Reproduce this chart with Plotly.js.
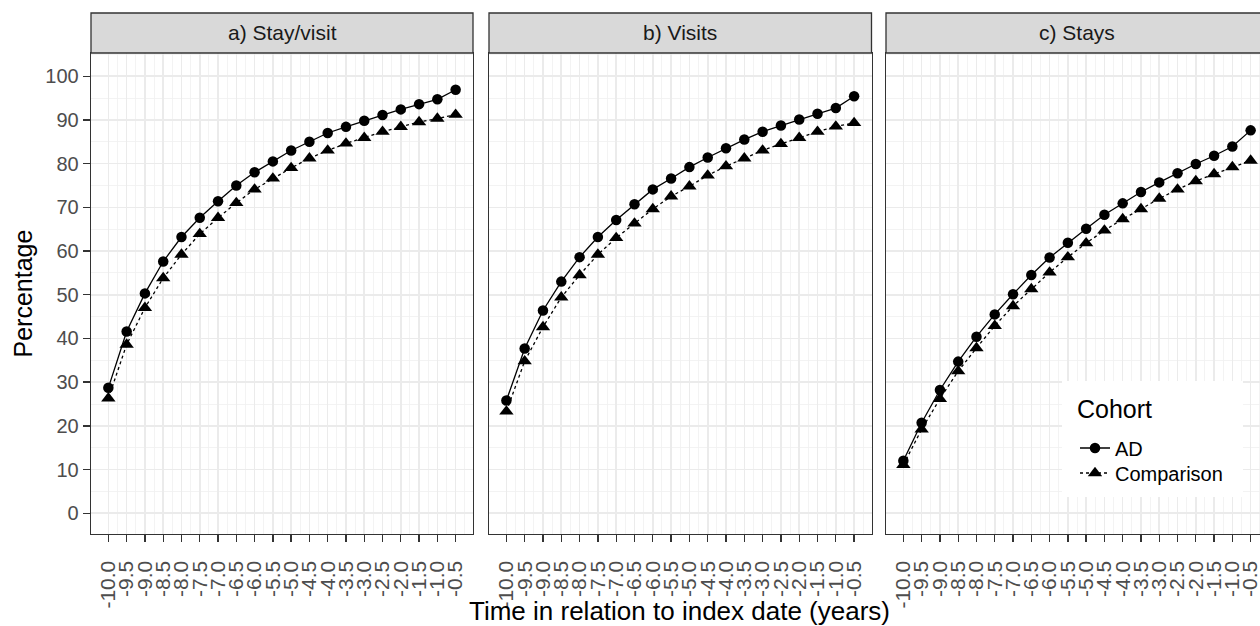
<!DOCTYPE html>
<html>
<head>
<meta charset="utf-8">
<script src="https://cdn.plot.ly/plotly-3.0.1.min.js"></script>
<style>
html, body { margin: 0; padding: 0; overflow: hidden; background: #fff; }
#chart { width: 1270px; height: 626px; }
</style>
</head>
<body>
<div id="chart"></div>
<script>
// ---- data ----
const years = [-10.0, -9.5, -9.0, -8.5, -8.0, -7.5, -7.0, -6.5, -6.0, -5.5,
               -5.0, -4.5, -4.0, -3.5, -3.0, -2.5, -2.0, -1.5, -1.0, -0.5];
const yearLabels = ["-10.0", "-9.5", "-9.0", "-8.5", "-8.0", "-7.5", "-7.0", "-6.5", "-6.0", "-5.5",
                    "-5.0", "-4.5", "-4.0", "-3.5", "-3.0", "-2.5", "-2.0", "-1.5", "-1.0", "-0.5"];
const panelTitles = ["a) Stay/visit", "b) Visits", "c) Stays"];
const cohorts = ["AD", "Comparison"];

const adStayVisit   = [28.7, 41.6, 50.3, 57.6, 63.2, 67.6, 71.4, 75.0, 78.0, 80.5, 83.0, 85.0, 87.0, 88.4, 89.8, 91.1, 92.4, 93.6, 94.7, 96.9];
const cmpStayVisit  = [26.3, 38.6, 47.0, 53.8, 59.2, 63.9, 67.6, 71.0, 74.1, 76.6, 79.0, 81.2, 83.0, 84.6, 85.9, 87.3, 88.4, 89.5, 90.3, 91.2];
const adVisits      = [25.8, 37.7, 46.4, 53.0, 58.6, 63.2, 67.1, 70.7, 74.1, 76.6, 79.2, 81.4, 83.5, 85.5, 87.3, 88.7, 90.1, 91.4, 92.7, 95.4];
const cmpVisits     = [23.3, 34.8, 42.6, 49.4, 54.5, 59.2, 63.0, 66.3, 69.6, 72.5, 74.8, 77.3, 79.4, 81.2, 83.0, 84.5, 85.9, 87.3, 88.5, 89.3];
const adStays       = [12.0, 20.7, 28.2, 34.7, 40.4, 45.5, 50.1, 54.5, 58.5, 61.9, 65.1, 68.3, 70.9, 73.5, 75.7, 77.8, 79.9, 81.8, 83.9, 87.6];
const cmpStays      = [11.1, 19.2, 26.2, 32.5, 37.8, 42.9, 47.4, 51.3, 55.1, 58.6, 61.8, 64.7, 67.3, 69.6, 72.0, 74.1, 76.0, 77.6, 79.2, 80.7];
const yTicks = [0, 10, 20, 30, 40, 50, 60, 70, 80, 90, 100];

// ---- layout geometry (pixels) ----
const W = 1270, H = 626;
const panelsPx = [[91, 473], [489, 871.5], [886, 1268]];
const panelTop = 53, panelBottom = 534, stripTop = 13;
const FONT = "Liberation Sans, Arial, sans-serif";
const px = v => v / W;
const py = v => 1 - v / H;

const seriesByPanel = [[adStayVisit, cmpStayVisit], [adVisits, cmpVisits], [adStays, cmpStays]];
const traces = [];
seriesByPanel.forEach((pair, i) => {
  const sfx = i === 0 ? "" : String(i + 1);
  traces.push({
    x: years, y: pair[0], name: cohorts[0], legend: "legend", showlegend: i === 0,
    xaxis: "x" + sfx, yaxis: "y" + sfx, type: "scatter", mode: "lines+markers",
    line: { color: "#000", width: 1.3 },
    marker: { symbol: "circle", size: 10.5, color: "#000" }
  });
  traces.push({
    x: years, y: pair[1], name: cohorts[1], legend: "legend2", showlegend: i === 0,
    xaxis: "x" + sfx, yaxis: "y" + sfx, type: "scatter", mode: "lines+markers",
    line: { color: "#000", width: 1.3, dash: "dot" },
    marker: { symbol: "triangle-up", size: 12.5, color: "#000" }
  });
});

const legendCommon = {
  xanchor: "left", yanchor: "middle", bgcolor: "rgba(0,0,0,0)", borderwidth: 0,
  font: { size: 20, color: "#000", family: FONT }, itemwidth: 30
};

const layout = {
  width: W, height: H,
  margin: { l: 0, r: 0, t: 0, b: 0 },
  paper_bgcolor: "#fff", plot_bgcolor: "#fff",
  font: { family: FONT, color: "#000" },
  showlegend: true,
  legend: Object.assign({ x: px(1075), y: py(448) }, legendCommon),
  legend2: Object.assign({ x: px(1075), y: py(473) }, legendCommon),
  shapes: [], annotations: []
};

panelsPx.forEach((p, i) => {
  const sfx = i === 0 ? "" : String(i + 1);
  layout["xaxis" + sfx] = {
    domain: [px(p[0]), px(p[1])], anchor: "y" + sfx,
    range: [-10.475, -0.025], tickvals: years, ticktext: yearLabels, tickangle: -90,
    ticks: "outside", ticklen: 7, tickwidth: 1.3, tickcolor: "#333333",
    ticklabelstandoff: 10,
    tickfont: { size: 21, color: "#4D4D4D", family: FONT },
    showline: true, mirror: true, linecolor: "#333333", linewidth: 1.3,
    showgrid: true, gridcolor: "#EBEBEB", gridwidth: 1.6,
    minor: { tickvals: years.map(v => v + 0.25), showgrid: true, gridcolor: "#F0F0F0", gridwidth: 0.8 },
    zeroline: false, fixedrange: true
  };
  layout["yaxis" + sfx] = {
    domain: [py(panelBottom), py(panelTop)], anchor: "x" + sfx,
    range: [-4.74, 105.3], tickvals: yTicks,
    ticks: i === 0 ? "outside" : "", ticklen: 7, tickwidth: 1.3, tickcolor: "#333333",
    showticklabels: i === 0,
    tickfont: { size: 20, color: "#4D4D4D", family: FONT },
    showline: true, mirror: true, linecolor: "#333333", linewidth: 1.3,
    showgrid: true, gridcolor: "#EBEBEB", gridwidth: 1.6,
    minor: { tickvals: yTicks.map(v => v + 5), showgrid: true, gridcolor: "#F0F0F0", gridwidth: 0.8 },
    zeroline: false, fixedrange: true
  };
  layout.shapes.push({
    type: "rect", xref: "paper", yref: "paper",
    x0: px(p[0]), x1: px(p[1]), y0: py(panelTop), y1: py(stripTop),
    fillcolor: "#D9D9D9", line: { color: "#333333", width: 1.3 }, layer: "above"
  });
  layout.annotations.push({
    xref: "paper", yref: "paper", x: px((p[0] + p[1]) / 2), y: py((panelTop + stripTop) / 2),
    xanchor: "center", yanchor: "middle", showarrow: false, text: panelTitles[i],
    font: { size: 21, color: "#1A1A1A", family: FONT }
  });
});

// legend background box and title
layout.shapes.push({
  type: "rect", xref: "paper", yref: "paper",
  x0: px(1062), x1: px(1243), y0: py(497), y1: py(381),
  fillcolor: "#fff", line: { width: 0 }, layer: "above"
});
layout.annotations.push({
  xref: "paper", yref: "paper", x: px(1075), y: py(409),
  xanchor: "left", yanchor: "middle", showarrow: false, text: "Cohort",
  font: { size: 25, color: "#000", family: FONT }
});

layout.annotations.push({
  xref: "paper", yref: "paper", x: px((panelsPx[0][0] + panelsPx[2][1]) / 2), y: py(611),
  xanchor: "center", yanchor: "middle", showarrow: false,
  text: "Time in relation to index date (years)",
  font: { size: 26, color: "#000", family: FONT }
});
layout.annotations.push({
  xref: "paper", yref: "paper", x: px(22), y: py((panelTop + panelBottom) / 2),
  xanchor: "center", yanchor: "middle", showarrow: false, textangle: -90,
  text: "Percentage",
  font: { size: 25, color: "#000", family: FONT }
});

Plotly.newPlot("chart", traces, layout, { displayModeBar: false, staticPlot: true });
</script>
</body>
</html>
